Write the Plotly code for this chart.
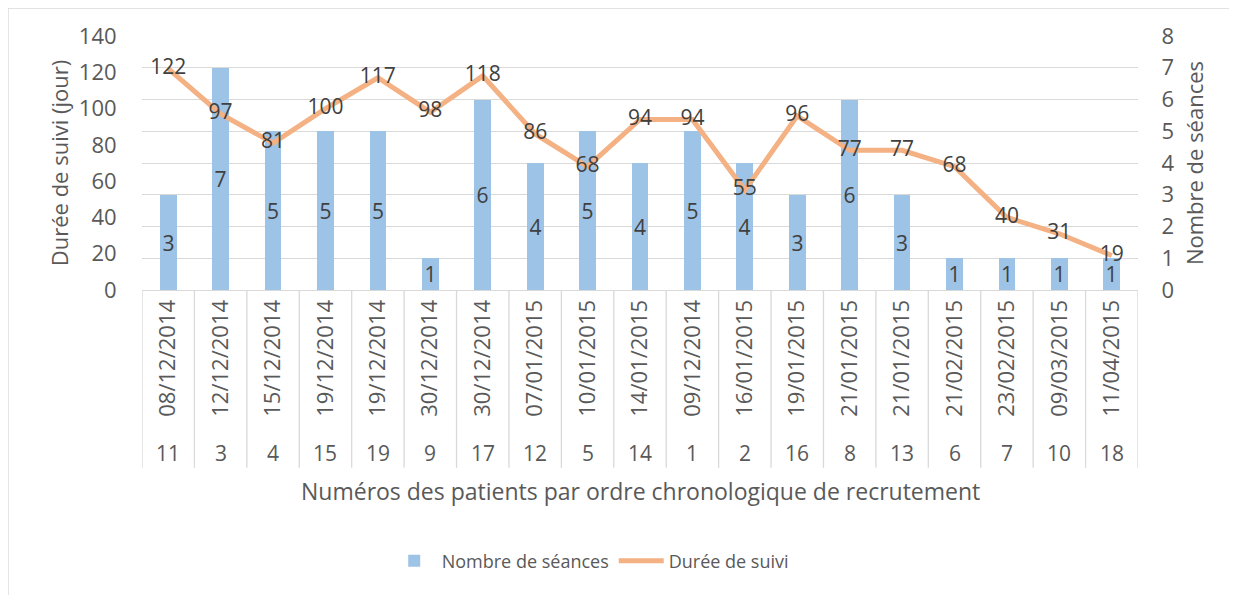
import plotly.graph_objects as go

dates = ["08/12/2014", "12/12/2014", "15/12/2014", "19/12/2014", "19/12/2014",
         "30/12/2014", "30/12/2014", "07/01/2015", "10/01/2015", "14/01/2015",
         "09/12/2014", "16/01/2015", "19/01/2015", "21/01/2015", "21/01/2015",
         "21/02/2015", "23/02/2015", "09/03/2015", "11/04/2015"]
patients = ["11", "3", "4", "15", "19", "9", "17", "12", "5", "14",
            "1", "2", "16", "8", "13", "6", "7", "10", "18"]
seances = [3, 7, 5, 5, 5, 1, 6, 4, 5, 4, 5, 4, 3, 6, 3, 1, 1, 1, 1]
duree = [122, 97, 81, 100, 117, 98, 118, 86, 68, 94, 94, 55, 96, 77, 77, 68, 40, 31, 19]

FONT = "Open Sans"
AXC = "#595959"
LBC = "#404040"
GRID = "#D9D9D9"
xs = list(range(len(dates)))

fig = go.Figure()
fig.add_trace(go.Bar(
    x=xs, y=seances, name="Nombre de séances", yaxis="y",
    marker=dict(color="#9DC3E6", line=dict(width=0)), width=0.32,
    text=[str(v) for v in seances], textposition="inside", insidetextanchor="middle",
    textangle=0, constraintext="none",
    textfont=dict(family=FONT, size=21, color=LBC),
))
fig.add_trace(go.Scatter(
    x=xs, y=duree, name="Durée de suivi", yaxis="y2", mode="lines+text",
    line=dict(color="#F4B183", width=5),
    text=[str(v) for v in duree], textposition="middle center",
    textfont=dict(family=FONT, size=21, color=LBC),
))

shapes = []
for i in range(len(dates) + 1):
    shapes.append(dict(type="line", xref="x", yref="paper", x0=i - 0.5, x1=i - 0.5,
                       y0=0, y1=-0.70, line=dict(color=GRID, width=1.3), layer="below"))
shapes.append(dict(type="rect", xref="paper", yref="paper", x0=-0.1345, x1=1.25,
                   y0=-1.40, y1=1.110, line=dict(color=GRID, width=1.3)))

annotations = []
for i, p in enumerate(patients):
    annotations.append(dict(x=i, y=-0.642, xref="x", yref="paper", text=p, showarrow=False,
                            font=dict(family=FONT, size=21, color=AXC), yanchor="middle"))
annotations.append(dict(x=0.5, y=-0.79, xref="paper", yref="paper", showarrow=False,
                        text="Numéros des patients par ordre chronologique de recrutement",
                        font=dict(family=FONT, size=23, color=AXC), yanchor="middle"))

fig.update_layout(
    width=1237, height=595,
    margin=dict(l=134, r=107, t=28, b=313),
    paper_bgcolor="white", plot_bgcolor="white",
    font=dict(family=FONT, color=AXC),
    bargap=0,
    xaxis=dict(range=[-0.5, len(dates) - 0.5], tickvals=xs, ticktext=dates, tickangle=-90,
               tickfont=dict(family=FONT, size=22, color=AXC), showgrid=False,
               showline=True, linecolor=GRID, linewidth=1.3, zeroline=False,
               ticks=""),
    yaxis=dict(side="right", range=[0, 8], dtick=1, showgrid=True, gridcolor=GRID,
               gridwidth=1.3, zeroline=False, tickfont=dict(family=FONT, size=22, color=AXC),
               ticks="outside", ticklen=18, tickcolor="rgba(0,0,0,0)",
               title=dict(text="Nombre de séances", font=dict(family=FONT, size=22, color=AXC),
                          standoff=14)),
    yaxis2=dict(side="left", overlaying="y", range=[0, 140], dtick=20, showgrid=False,
                zeroline=False, tickfont=dict(family=FONT, size=22, color=AXC),
                ticks="outside", ticklen=20, tickcolor="rgba(0,0,0,0)",
                title=dict(text="Durée de suivi (jour)", font=dict(family=FONT, size=22, color=AXC),
                           standoff=4)),
    legend=dict(orientation="h", x=0.45, xanchor="center", y=-1.067, yanchor="middle",
                font=dict(family=FONT, size=18, color=AXC), traceorder="normal",
                itemwidth=45),
    shapes=shapes, annotations=annotations, showlegend=True,
)

fig.write_html("out.html")
